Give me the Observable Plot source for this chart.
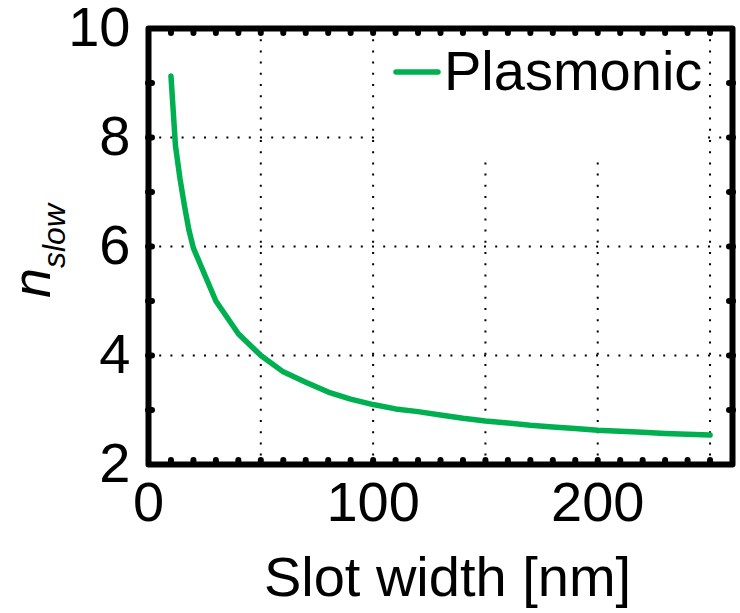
<!DOCTYPE html>
<html>
<head>
<meta charset="utf-8">
<script src="https://cdn.jsdelivr.net/npm/d3@7"></script>
<script src="https://cdn.jsdelivr.net/npm/@observablehq/plot@0.6"></script>
<style>
  html, body { margin: 0; padding: 0; background: white; }
  #chart { position: relative; width: 740px; height: 613px; }
</style>
</head>
<body>
<div id="chart"></div>
<script>
// Data
const slotWidth = [10, 12, 14, 16, 18, 20, 30, 40, 50, 60, 70, 80, 90, 100, 110, 120, 130, 140, 150, 160, 170, 180, 190, 200, 210, 220, 230, 240, 250];
const nSlow     = [9.13, 7.85, 7.25, 6.75, 6.3, 5.97, 5.0, 4.4, 4.0, 3.7, 3.51, 3.33, 3.2, 3.1, 3.02, 2.97, 2.91, 2.85, 2.8, 2.76, 2.72, 2.69, 2.66, 2.63, 2.61, 2.59, 2.57, 2.555, 2.54];
const seriesName = "Plasmonic";

const xTickLabels = [0, 100, 200];
const yTickLabels = [2, 4, 6, 8, 10];
const xMinorTicks = d3.range(10, 251, 10);
const yMinorTicks = [3, 4, 5, 6, 7, 8, 9];
const xGridLines = [50, 100, 150, 200, 250];
const yGridLines = [4, 6, 8];
const xLabel = "Slot width [nm]";
const yLabelMain = "n";
const yLabelSub = "slow";

const data = slotWidth.map((w, i) => ({w, n: nSlow[i]}));
const green = "#00b050";
const font = "'Liberation Sans', Arial, sans-serif";

const tickOpts = {tickSize: -4, tickFormat: () => "", strokeWidth: 6, strokeLinecap: "round", label: null, fontSize: 1};
const gridOpts = {stroke: "black", strokeOpacity: 1, strokeWidth: 2, strokeDasharray: "2,9.2"};

const plot = Plot.plot({
  width: 740,
  height: 613,
  marginLeft: 148,
  marginRight: 8,
  marginTop: 28,
  marginBottom: 149,
  x: {domain: [0, 260]},
  y: {domain: [2, 10]},
  style: {fontFamily: font, background: "white", color: "black"},
  marks: [
    Plot.gridX(xGridLines, gridOpts),
    Plot.gridY(yGridLines, gridOpts),
    Plot.axisX(xTickLabels, {anchor: "bottom", tickSize: 0, tickPadding: 17, fontSize: 56, label: null, tickFormat: d3.format("d")}),
    Plot.axisY(yTickLabels, {anchor: "left", tickSize: 0, tickPadding: 18, fontSize: 56, label: null, tickFormat: d3.format("d")}),
    Plot.axisX(xMinorTicks, {anchor: "bottom", ...tickOpts}),
    Plot.axisX(xMinorTicks, {anchor: "top", ...tickOpts}),
    Plot.axisY(yMinorTicks, {anchor: "left", ...tickOpts}),
    Plot.axisY(yMinorTicks, {anchor: "right", ...tickOpts}),
    Plot.line(data, {x: "w", y: "n", stroke: green, strokeWidth: 5.5, strokeLinejoin: "round", strokeLinecap: "round"}),
    Plot.text([xLabel], {frameAnchor: "bottom", lineAnchor: "middle", dy: 114, dx: 7, fontSize: 56, fill: "black"}),
    Plot.frame({stroke: "black", strokeWidth: 6, strokeLinejoin: "round"})
  ]
});

document.getElementById("chart").appendChild(plot);

// y-axis label with subscript
const svg = d3.select(plot);
const yl = svg.append("text")
  .attr("transform", "translate(50,251) rotate(-90)")
  .attr("text-anchor", "middle")
  .attr("font-family", font)
  .attr("font-style", "italic")
  .attr("fill", "black");
yl.append("tspan").attr("font-size", 54).text(yLabelMain);
yl.append("tspan").attr("font-size", 32).attr("dy", 15).text(yLabelSub);

// legend (white box covering gridlines)
const lg = svg.append("g");
lg.append("rect").attr("x", 381).attr("y", 37).attr("width", 324).attr("height", 119).attr("fill", "white");
lg.append("line").attr("x1", 396).attr("x2", 438).attr("y1", 72).attr("y2", 72)
  .attr("stroke", green).attr("stroke-width", 5.5).attr("stroke-linecap", "round");
lg.append("text").attr("x", 444).attr("y", 90).attr("font-family", font).attr("font-size", 56)
  .attr("text-anchor", "start").attr("fill", "black").text(seriesName);
</script>
</body>
</html>
